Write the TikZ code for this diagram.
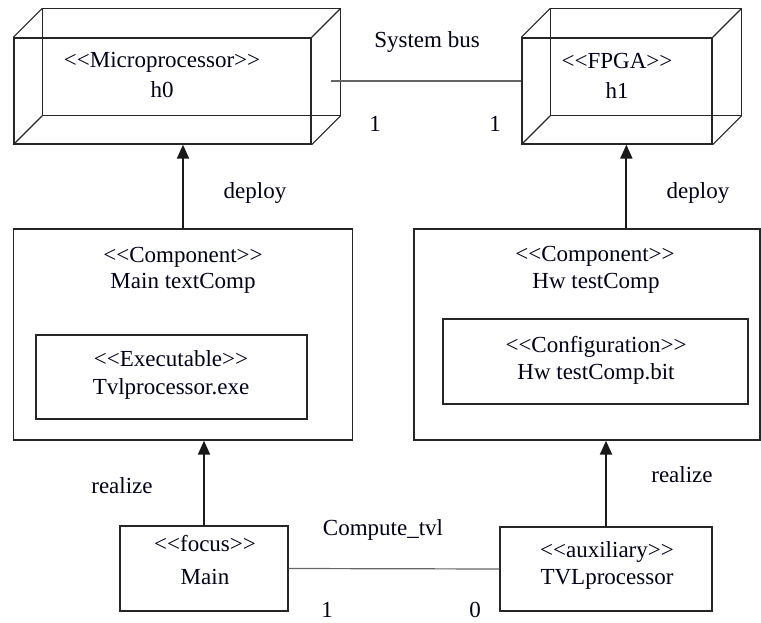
\documentclass[tikz,border=0pt]{standalone}
\usepackage{fontspec}
\setmainfont{Liberation Serif}
\usetikzlibrary{arrows.meta}
\newcommand\stereo[1]{<{}<#1>{}>}
\begin{document}
\begin{tikzpicture}[x=1pt,y=-1pt,
  font=\fontsize{23}{27}\selectfont,
  box/.style={draw=black!85, line width=1.3pt, inner sep=0pt, fill=none},
  lbl/.style={inner sep=0pt, text height=15pt, text depth=0pt, text=black!90!blue},
  dep/.style={-{Triangle[length=14pt,width=12pt]}, line width=2pt, draw=black!90},
  assoc/.style={line width=1.2pt, draw=black!60}]
\useasboundingbox (0,0) rectangle (761,623);

% ---- nodes (3D boxes: front faces) ----
\node[box, minimum width=297pt, minimum height=106pt] (h0) at (162.5,91) {};
\node[box, minimum width=190pt, minimum height=106pt] (h1) at (617,91) {};
\foreach \n in {h0,h1}{
  \draw[black!85, line width=1.1pt] ([shift={(29,-29)}]\n.north west) rectangle ([shift={(29,-29)}]\n.south east);
  \foreach \c in {north west,north east,south west,south east}
    \draw[black!85, line width=1.1pt] (\n.\c) -- ++(29,-29);
}
\node[lbl] (h0st) at (162,60.5) {\stereo{Microprocessor}};
\node[lbl] (h0nm) at (162,90.5) {h0};
\node[lbl] (h1st) at (617,61) {\stereo{FPGA}};
\node[lbl] (h1nm) at (617,91.5) {h1};

% ---- components ----
\node[box, minimum width=339pt, minimum height=211pt] (mtc) at (183,334.5) {};
\node[lbl] (mtcst) at (183,254.5) {\stereo{Component}};
\node[lbl] (mtcnm) at (183,280.5) {Main textComp};
\node[box, minimum width=271pt, minimum height=84pt] (exe) at (171.5,377) {};
\node[lbl] (exest) at (171,359) {\stereo{Executable}};
\node[lbl] (exenm) at (171,386.5) {Tvlprocessor.exe};

\node[box, minimum width=346pt, minimum height=211pt] (hwc) at (587,334.5) {};
\node[lbl] (hwcst) at (595,254) {\stereo{Component}};
\node[lbl] (hwcnm) at (596,281) {Hw testComp};
\node[box, minimum width=305pt, minimum height=85pt] (cfg) at (595.5,361.5) {};
\node[lbl] (cfgst) at (596,344.5) {\stereo{Configuration}};
\node[lbl] (cfgnm) at (596,371.5) {Hw testComp.bit};

% ---- classes ----
\node[box, minimum width=168pt, minimum height=85pt] (main) at (204,568.5) {};
\node[lbl] (mainst) at (205,544) {\stereo{focus}};
\node[lbl] (mainnm) at (205,576.5) {Main};
\node[box, minimum width=212pt, minimum height=84pt] (tvl) at (606,569) {};
\node[lbl] (tvlst) at (607,549.5) {\stereo{auxiliary}};
\node[lbl] (tvlnm) at (607,576.5) {TVLprocessor};

% ---- connectors ----
\draw[assoc] ([shift={(19,-10)}]h0.east) -- ([shift={(0,-10)}]h1.west);
\draw[dep] (mtc.north) -- (mtc.north |- h0.south);
\draw[dep] ([xshift=213pt]hwc.north west) -- ([xshift=213pt]hwc.north west |- h1.south);
\draw[dep] (main.north) -- (main.north |- mtc.south);
\draw[dep] (tvl.north) -- (tvl.north |- hwc.south);
\draw[assoc] (main.east) -- (tvl.west);

% ---- connector labels ----
\node[lbl] (busl) at (427,40) {System bus};
\node[lbl] (busm0) at (375,124.5) {1};
\node[lbl] (busm1) at (495,124.5) {1};
\node[lbl] (depl0) at (255,191) {deploy};
\node[lbl] (depl1) at (698,191) {deploy};
\node[lbl] (real0) at (122,485.5) {realize};
\node[lbl] (real1) at (682,474.5) {realize};
\node[lbl] (cmpl) at (383,527.5) {Compute\_tvl};
\node[lbl] (cmpm0) at (327,610) {1};
\node[lbl] (cmpm1) at (475,610) {0};
\end{tikzpicture}
\end{document}
